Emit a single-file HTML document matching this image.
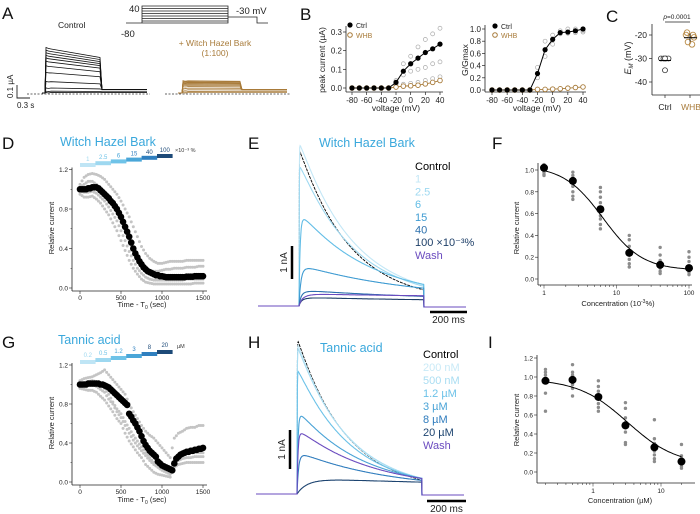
<!DOCTYPE html>
<html><head><meta charset="utf-8">
<style>
html,body{margin:0;padding:0;background:#fff;}
svg{display:block;font-family:"Liberation Sans",Arial,sans-serif;}
</style></head>
<body>
<svg id="fig" width="700" height="514" viewBox="0 0 700 514" xmlns="http://www.w3.org/2000/svg">
<g font-size="17" fill="#111">
<text x="2" y="19">A</text>
<text x="300" y="20">B</text>
<text x="606" y="22">C</text>
<text x="2" y="149">D</text>
<text x="248" y="149">E</text>
<text x="492" y="149">F</text>
<text x="2" y="348">G</text>
<text x="248" y="348">H</text>
<text x="488" y="348">I</text>
</g>
<text x="58" y="28" font-size="8.5" fill="#222">Control</text>
<g stroke="#222" stroke-width="0.8" fill="none">
<path d="M126,23 H142 V6 H228 V23 H142" />
<path d="M142,8.5H228M142,11H228M142,13.5H228M142,16H228M142,18.5H228M142,21H228"/>
<path d="M228,17 H257 V23 H268"/>
</g>
<text x="129" y="12" font-size="9.5" fill="#222">40</text>
<text x="121" y="37" font-size="9.5" fill="#222">-80</text>
<text x="236" y="14" font-size="9.5" fill="#222">-30 mV</text>
<text x="215" y="46" font-size="8.5" fill="#a87b3a" text-anchor="middle">+ Witch Hazel Bark</text>
<text x="215" y="56" font-size="8.5" fill="#a87b3a" text-anchor="middle">(1:100)</text>
<path d="M17,85 V98 H30" stroke="#222" stroke-width="0.9" fill="none"/>
<text x="0" y="0" font-size="8" fill="#222" transform="translate(13,98) rotate(-90)">0.1 µA</text>
<text x="17" y="108" font-size="8" fill="#222">0.3 s</text>
<line x1="27" y1="94" x2="150" y2="94" stroke="#333" stroke-width="0.7" stroke-dasharray="2,1.5"/>
<line x1="165" y1="94" x2="290" y2="94" stroke="#333" stroke-width="0.7" stroke-dasharray="2,1.5"/>
<g id="tracesA"></g>

<g font-size="8" fill="#222">
<text transform="translate(325,60) rotate(-90)" text-anchor="middle" font-size="8.5">peak current (µA)</text>
<text x="396" y="111" text-anchor="middle" font-size="8.5">voltage (mV)</text>
</g>
<g id="b1"></g>
<text transform="translate(468,60) rotate(-90)" text-anchor="middle" font-size="8.5" fill="#222">G/Gmax</text>
<text x="537" y="111" text-anchor="middle" font-size="8.5" fill="#222">voltage (mV)</text>
<g id="b2"></g>
<text transform="translate(631,58) rotate(-90)" text-anchor="middle" font-size="9" fill="#222"><tspan font-style="italic">E</tspan><tspan font-size="6" dy="2" font-style="italic">M</tspan><tspan dy="-2"> (mV)</tspan></text>
<text x="677" y="19" font-size="6.5" text-anchor="middle" fill="#222"><tspan font-style="italic">p</tspan>=0.0001</text>
<line x1="665" y1="22" x2="690" y2="22" stroke="#222" stroke-width="0.7"/>
<text x="665" y="110" font-size="8.5" text-anchor="middle" fill="#222">Ctrl</text>
<text x="691" y="110" font-size="8.5" text-anchor="middle" fill="#a87b3a">WHB</text>
<g id="c"></g>

<text x="60" y="146" font-size="12.5" fill="#3aa8dc">Witch Hazel Bark</text>
<text x="175" y="152" font-size="5.5" fill="#333">×10⁻³ %</text>
<text transform="translate(54,228) rotate(-90)" text-anchor="middle" font-size="7.5" fill="#222">Relative current</text>
<text x="142" y="307" text-anchor="middle" font-size="7.5" fill="#222">Time - T<tspan font-size="5" dy="2">0</tspan><tspan dy="-2"> (sec)</tspan></text>
<g id="d"></g>

<text x="319" y="147" font-size="12.5" fill="#3aa8dc">Witch Hazel Bark</text>
<g id="e"></g>
<text transform="translate(519,228) rotate(-90)" text-anchor="middle" font-size="7.5" fill="#222">Relative current</text>
<text x="618" y="306" text-anchor="middle" font-size="7.5" fill="#222">Concentration (10<tspan font-size="5" dy="-3">-3</tspan><tspan dy="3">%)</tspan></text>
<g id="f"></g>

<text x="58" y="344" font-size="12.5" fill="#3aa8dc">Tannic acid</text>
<text x="177" y="348" font-size="5.5" fill="#333">µM</text>
<text transform="translate(54,423) rotate(-90)" text-anchor="middle" font-size="7.5" fill="#222">Relative current</text>
<text x="142" y="502" text-anchor="middle" font-size="7.5" fill="#222">Time - T<tspan font-size="5" dy="2">0</tspan><tspan dy="-2"> (sec)</tspan></text>
<g id="g"></g>
<text x="320" y="352" font-size="12.5" fill="#3aa8dc">Tannic acid</text>
<g id="h"></g>
<text transform="translate(519,420) rotate(-90)" text-anchor="middle" font-size="7.5" fill="#222">Relative current</text>
<text x="620" y="503" text-anchor="middle" font-size="7.5" fill="#222">Concentration (µM)</text>
<g id="i"></g>
</svg>
<script>
const aCtrlPeaks = [0.35,0.33,0.31,0.29,0.27,0.245,0.21,0.16,0.09,0.04,0.015,0.005];
const aWhbPeaks = [0.095,0.09,0.085,0.08,0.075,0.068,0.06,0.05,0.038,0.025,0.012,0.004];
const bVolt = [-80,-70,-60,-50,-40,-30,-20,-10,0,10,20,30,40];
const b1Ctrl = [0,0,0,0,0,0,0.03,0.09,0.13,0.16,0.19,0.21,0.235];
const b1Whb = [0,0,0,0,0,0,0.005,0.01,0.012,0.015,0.022,0.03,0.04];
const b1CellA = [0,0,0,0,0,0,0.04,0.13,0.17,0.22,0.26,0.29,0.32];
const b1CellB = [0,0,0,0,0,0,0.02,0.07,0.09,0.1,0.11,0.13,0.14];
const b1WhbCell = [0,0,0,0,0,0,0.01,0.02,0.025,0.03,0.04,0.05,0.06];
const b1Ticks = [0,0.1,0.2,0.3];
const bXTicks = [-80,-60,-40,-20,0,20,40];
const b2Ctrl = [0,0,0,0,0,0,0.27,0.66,0.83,0.94,0.95,0.97,1.0];
const b2Whb = [0,0,0,0,0,0,0.01,0.01,0.015,0.02,0.03,0.04,0.05];
const b2CellA = [0,0,0,0,0,0,0.37,0.8,0.9,0.97,1.0,1.0,0.97];
const b2CellB = [0,0,0,0,0,0,0.2,0.55,0.75,0.92,0.93,0.94,0.95];
const b2Ticks = [0,0.2,0.4,0.6,0.8,1.0];
const cCtrl = [-30,-30,-30,-30,-30,-35];
const cWhb = [-19,-20,-20,-21,-23,-24];
const cTicks = [-20,-30,-40];
const dMean = [1.00,1.00,1.00,1.00,1.01,1.01,1.02,1.02,1.02,1.01,0.99,0.97,0.95,0.93,0.91,0.88,0.86,0.83,0.80,0.76,0.72,0.67,0.62,0.57,0.52,0.46,0.40,0.35,0.31,0.27,0.24,0.21,0.19,0.17,0.16,0.15,0.14,0.13,0.13,0.12,0.12,0.115,0.11,0.11,0.11,0.11,0.11,0.11,0.11,0.11,0.11,0.11,0.115,0.115,0.115,0.115,0.12,0.12,0.12,0.12,0.12];
const dCellUpper = [1.05,1.12,1.15,1.16,1.15,1.13,1.10,1.05,1.0,0.95,0.88,0.80,0.72,0.62,0.52,0.42,0.35,0.30,0.27,0.25,0.25,0.26,0.27,0.27,0.27,0.27,0.28,0.28,0.28,0.28,0.28];
const dCellLower = [0.95,0.92,0.92,0.93,0.90,0.86,0.80,0.74,0.66,0.58,0.48,0.38,0.28,0.20,0.14,0.09,0.06,0.05,0.04,0.04,0.04,0.04,0.04,0.04,0.04,0.04,0.04,0.04,0.05,0.05,0.05];
const dCellMid1 = [1.02,1.05,1.08,1.08,1.05,1.0,0.96,0.9,0.84,0.77,0.68,0.58,0.48,0.38,0.30,0.24,0.20,0.18,0.17,0.17,0.18,0.19,0.19,0.2,0.2,0.2,0.21,0.21,0.21,0.22,0.22];
const dCellMid2 = [0.98,0.97,0.97,0.98,0.96,0.92,0.88,0.82,0.75,0.68,0.58,0.48,0.37,0.28,0.2,0.15,0.11,0.09,0.08,0.08,0.08,0.08,0.08,0.08,0.08,0.08,0.09,0.09,0.09,0.09,0.09];
const dConcLabels = ["1","2.5","6","15","40","100"];
const timeTicks = [0,500,1000,1500];
const relTicksD = [0.0,0.4,0.8,1.2];
const eLabels = ["Control","1","2.5","6","15","40","100 ×10⁻³%","Wash"];
const eAmp = [4.9,5.1,4.4,2.8,1.1,0.35,0.15,0.12];
const eDecay = [270,290,300,380,600,800,1000,1000];
const eRise = [1,1,1,6,10,10,10,10];
const eSteady = [0.1,0.15,0.15,0.2,0.2,0.15,0.12,0.26];
const fConc = [1,2.5,6,15,40,100];
const fMean = [1.02,0.90,0.64,0.24,0.13,0.10];
const fCells = [[1.05,1.03,1.0,0.98,0.96,0.95],[0.98,0.95,0.92,0.88,0.85,0.80,0.76,0.73],[0.84,0.8,0.75,0.7,0.66,0.62,0.58,0.55,0.5,0.46],[0.40,0.36,0.30,0.26,0.22,0.18,0.14,0.11],[0.29,0.22,0.17,0.13,0.1,0.07,0.05],[0.25,0.2,0.16,0.12,0.09,0.06,0.04]];
const fFit = [0.08,1.04,6.5,1.6];
const fYTicks = [0.0,0.2,0.4,0.6,0.8,1.0];
const fXTicks = [1,10,100];
const gMean = [1.00,1.00,1.00,1.00,1.01,1.01,1.01,1.01,1.01,1.01,1.00,1.00,0.99,0.98,0.97,0.95,0.93,0.91,0.89,0.87,0.85,0.83,0.81,0.79,0.70,0.67,0.63,0.60,0.56,0.52,0.47,0.42,0.38,0.35,0.32,0.30,0.28,0.26,0.21,0.19,0.17,0.16,0.15,0.14,0.13,0.12,0.19,0.24,0.26,0.28,0.29,0.30,0.31,0.31,0.32,0.32,0.33,0.33,0.34,0.34,0.35];
const gCellUpper = [1.04,1.06,1.07,1.08,1.10,1.12,1.15,1.10,1.05,1.0,0.95,0.90,0.80,0.72,0.65,0.58,0.52,0.48,0.45,0.40,0.35,0.30,0.25,0.45,0.50,0.52,0.55,0.56,0.56,0.58,0.58];
const gCellLower = [0.96,0.95,0.94,0.94,0.92,0.88,0.84,0.78,0.72,0.65,0.60,0.50,0.42,0.36,0.30,0.25,0.18,0.14,0.10,0.08,0.07,0.06,0.05,0.15,0.18,0.19,0.20,0.20,0.20,0.20,0.20];
const gCellMid1 = [1.0,1.02,1.03,1.04,1.03,1.0,0.96,0.9,0.82,0.75,0.70,0.62,0.55,0.48,0.42,0.36,0.30,0.25,0.20,0.17,0.15,0.12,0.10,0.22,0.26,0.28,0.29,0.30,0.30,0.30,0.30];
const gCellMid2 = [0.98,0.99,1.0,1.0,0.98,0.95,0.92,0.85,0.80,0.72,0.66,0.58,0.50,0.43,0.37,0.32,0.27,0.22,0.18,0.15,0.12,0.10,0.08,0.20,0.22,0.24,0.25,0.25,0.26,0.26,0.26];
const gConcLabels = ["0.2","0.5","1.2","3","8","20"];
const hLabels = ["Control","200 nM","500 nM","1.2 µM","3 µM","8 µM","20 µM","Wash"];
const hAmp = [4.0,3.9,3.8,3.2,2.1,1.0,0.35,1.6];
const hDecay = [250,255,260,270,330,460,2000,380];
const hRise = [1,1,1,1,5,8,60,5];
const hSteady = [0.05,0.06,0.08,0.1,0.1,0.1,0.05,0.1];
const iConc = [0.2,0.5,1.2,3,8,20];
const iMean = [0.96,0.97,0.79,0.49,0.26,0.11];
const iCells = [[1.08,1.05,1.02,0.98,0.94,0.83,0.64],[1.13,1.05,1.02,0.98,0.92,0.88,0.80],[0.96,0.9,0.85,0.78,0.72,0.68,0.64],[0.73,0.67,0.57,0.52,0.47,0.42,0.31,0.29],[0.55,0.35,0.3,0.26,0.22,0.18,0.14,0.11],[0.29,0.17,0.14,0.11,0.08,0.06,0.04]];
const iFit = [0.07,0.98,3.2,1.2];
const iYTicks = [0.0,0.2,0.4,0.6,0.8,1.0,1.2];
const iXTicks = [1,10];

const NS = 'http://www.w3.org/2000/svg';
function mk(parent, tag, attrs, name) {
  const el = document.createElementNS(NS, tag);
  for (const k in attrs) el.setAttribute(k, attrs[k]);
  
  
  parent.appendChild(el);
  return el;
}
function tx(parent, x, y, s, size, name, anchor, fill) {
  const t = mk(parent, 'text', {x: x, y: y, 'font-size': size, 'text-anchor': anchor || 'start', fill: fill || '#222'}, name);
  t.textContent = s;
  return t;
}
function lin(d0, d1, r0, r1) { return v => r0 + (v - d0) * (r1 - r0) / (d1 - d0); }
function logs(d0, d1, r0, r1) { const a = Math.log10(d0), b = Math.log10(d1); return v => r0 + (Math.log10(v) - a) * (r1 - r0) / (b - a); }
function hill(p, c) { return p[0] + (p[1] - p[0]) / (1 + Math.pow(c / p[2], p[3])); }
const G = id => document.getElementById(id);
const ctrlColors = ['#000','#c3e7f6','#9fd9f1','#62bde6','#3e9bd2','#2c70ad','#1e3f68','#6a4bbf'];
const barColors = ['#bfe5f5','#9ed8f0','#6fc3e8','#4aa6d8','#2f7fbf','#1d4a78'];

(function(){
  const g = G('tracesA');
  const sc = 130, base = 93;
  function draw(peaks, x0, x1, x2, xs, color, nm, sag) {
    peaks.forEach((p, i) => {
      const y0 = base - p * sc, y1 = base - p * sc * sag;
      const tail = base - Math.min(p, 0.03) * sc * 0.9;
      const d = `M${xs},${base} H${x0} L${x0+1},${y0} Q${x0+3},${y0+1} ${x0+6},${y0+ (y1-y0)*0.15} L${x1},${y1} L${x1+2},${tail} H${x2}`;
      mk(g, 'path', {d: d, fill: 'none', stroke: color, 'stroke-width': 0.8}, nm + '-trace-' + i);
    });
  }
  draw(aCtrlPeaks, 45, 100, 147, 42, '#111', 'control', 0.78);
  draw(aWhbPeaks, 182, 240, 287, 178, '#a87b3a', 'whb', 0.95);
})();

(function(){
  const g = G('b1');
  const x = lin(-80, 40, 352, 440), y = lin(0, 0.3, 88, 32);
  mk(g, 'line', {x1: 346, y1: 26, x2: 346, y2: 92, stroke: '#222', 'stroke-width': 0.8}, 'b1-y-axis');
  mk(g, 'line', {x1: 346, y1: 92, x2: 443, y2: 92, stroke: '#222', 'stroke-width': 0.8}, 'b1-x-axis');
  b1Ticks.forEach(v => { mk(g, 'line', {x1: 343, y1: y(v), x2: 346, y2: y(v), stroke: '#222', 'stroke-width': 0.7}, 'b1-y-tick'); tx(g, 342, y(v) + 3, v.toFixed(1), 8, 'b1-y-tick-label', 'end'); });
  bXTicks.forEach(v => { mk(g, 'line', {x1: x(v), y1: 92, x2: x(v), y2: 95, stroke: '#222', 'stroke-width': 0.7}, 'b1-x-tick'); tx(g, x(v), 103, String(v), 8, 'b1-x-tick-label', 'middle'); });
  [b1CellA, b1CellB, b1WhbCell].forEach((arr, k) => arr.forEach((v, i) => mk(g, 'circle', {cx: x(bVolt[i]), cy: y(v), r: 2, fill: 'none', stroke: '#aaa', 'stroke-width': 0.7}, 'b1-cell-point')));
  mk(g, 'polyline', {points: bVolt.map((v, i) => x(v) + ',' + y(b1Whb[i])).join(' '), fill: 'none', stroke: '#a87b3a', 'stroke-width': 0.9}, 'b1-whb-line');
  mk(g, 'polyline', {points: bVolt.map((v, i) => x(v) + ',' + y(b1Ctrl[i])).join(' '), fill: 'none', stroke: '#000', 'stroke-width': 1}, 'b1-ctrl-line');
  bVolt.forEach((v, i) => mk(g, 'circle', {cx: x(v), cy: y(b1Whb[i]), r: 2.3, fill: '#fff', stroke: '#a87b3a', 'stroke-width': 0.9}, 'b1-whb-point'));
  bVolt.forEach((v, i) => mk(g, 'circle', {cx: x(v), cy: y(b1Ctrl[i]), r: 2.6, fill: '#000'}, 'b1-ctrl-point'));
  mk(g, 'circle', {cx: 350, cy: 25, r: 2.6, fill: '#000'}, 'b1-legend-ctrl-marker');
  tx(g, 356, 28, 'Ctrl', 7, 'b1-legend-ctrl');
  mk(g, 'circle', {cx: 350, cy: 35, r: 2.3, fill: '#fff', stroke: '#a87b3a'}, 'b1-legend-whb-marker');
  tx(g, 356, 38, 'WHB', 7, 'b1-legend-whb', 'start', '#a87b3a');
})();

(function(){
  const g = G('b2');
  const x = lin(-80, 40, 492, 583), y = lin(0, 1, 90, 29);
  mk(g, 'line', {x1: 485, y1: 25, x2: 485, y2: 92, stroke: '#222', 'stroke-width': 0.8}, 'b2-y-axis');
  mk(g, 'line', {x1: 485, y1: 92, x2: 586, y2: 92, stroke: '#222', 'stroke-width': 0.8}, 'b2-x-axis');
  b2Ticks.forEach(v => { mk(g, 'line', {x1: 482, y1: y(v), x2: 485, y2: y(v), stroke: '#222', 'stroke-width': 0.7}, 'b2-y-tick'); tx(g, 481, y(v) + 3, v.toFixed(1), 8, 'b2-y-tick-label', 'end'); });
  bXTicks.forEach(v => { mk(g, 'line', {x1: x(v), y1: 92, x2: x(v), y2: 95, stroke: '#222', 'stroke-width': 0.7}, 'b2-x-tick'); tx(g, x(v), 103, String(v), 8, 'b2-x-tick-label', 'middle'); });
  [b2CellA, b2CellB].forEach(arr => arr.forEach((v, i) => mk(g, 'circle', {cx: x(bVolt[i]), cy: y(v), r: 2, fill: 'none', stroke: '#aaa', 'stroke-width': 0.7}, 'b2-cell-point')));
  mk(g, 'polyline', {points: bVolt.map((v, i) => x(v) + ',' + y(b2Whb[i])).join(' '), fill: 'none', stroke: '#a87b3a', 'stroke-width': 0.9}, 'b2-whb-line');
  mk(g, 'polyline', {points: bVolt.map((v, i) => x(v) + ',' + y(b2Ctrl[i])).join(' '), fill: 'none', stroke: '#000', 'stroke-width': 1}, 'b2-ctrl-line');
  bVolt.forEach((v, i) => mk(g, 'circle', {cx: x(v), cy: y(b2Whb[i]), r: 2.3, fill: '#fff', stroke: '#a87b3a', 'stroke-width': 0.9}, 'b2-whb-point'));
  bVolt.forEach((v, i) => mk(g, 'circle', {cx: x(v), cy: y(b2Ctrl[i]), r: 2.6, fill: '#000'}, 'b2-ctrl-point'));
  mk(g, 'circle', {cx: 495, cy: 26, r: 2.6, fill: '#000'}, 'b2-legend-ctrl-marker');
  tx(g, 501, 29, 'Ctrl', 7, 'b2-legend-ctrl');
  mk(g, 'circle', {cx: 495, cy: 35, r: 2.3, fill: '#fff', stroke: '#a87b3a'}, 'b2-legend-whb-marker');
  tx(g, 501, 38, 'WHB', 7, 'b2-legend-whb', 'start', '#a87b3a');
})();

(function(){
  const g = G('c');
  const y = lin(-20, -40, 35, 82);
  mk(g, 'line', {x1: 652, y1: 24, x2: 652, y2: 95, stroke: '#222', 'stroke-width': 0.8}, 'c-y-axis');
  mk(g, 'line', {x1: 652, y1: 95, x2: 700, y2: 95, stroke: '#222', 'stroke-width': 0.8}, 'c-x-axis');
  cTicks.forEach(v => { mk(g, 'line', {x1: 649, y1: y(v), x2: 652, y2: y(v), stroke: '#222', 'stroke-width': 0.7}, 'c-y-tick'); tx(g, 647, y(v) + 3, String(v), 8.5, 'c-y-tick-label', 'end'); });
  [665, 690].forEach(xx => mk(g, 'line', {x1: xx, y1: 95, x2: xx, y2: 98, stroke: '#222', 'stroke-width': 0.7}, 'c-x-tick'));
  const offs = [-4,-1.5,1,3.5,0,0];
  cCtrl.forEach((v, i) => mk(g, 'circle', {cx: 665 + offs[i], cy: y(v), r: 2.5, fill: '#fff', stroke: '#333', 'stroke-width': 0.8}, 'c-ctrl-point'));
  const offw = [-3,3,-4,4,-2,2];
  cWhb.forEach((v, i) => mk(g, 'circle', {cx: 690 + offw[i], cy: y(v), r: 2.8, fill: 'none', stroke: '#b88a45', 'stroke-width': 0.9}, 'c-whb-point'));
  const mc = cCtrl.reduce((a, b) => a + b, 0) / cCtrl.length, mw = cWhb.reduce((a, b) => a + b, 0) / cWhb.length;
  mk(g, 'line', {x1: 659, y1: y(mc), x2: 671, y2: y(mc), stroke: '#000', 'stroke-width': 1}, 'c-ctrl-mean');
  mk(g, 'line', {x1: 684, y1: y(mw), x2: 697, y2: y(mw), stroke: '#000', 'stroke-width': 1}, 'c-whb-mean');
  mk(g, 'line', {x1: 690, y1: y(mw) - 4, x2: 690, y2: y(mw) + 4, stroke: '#000', 'stroke-width': 0.8}, 'c-whb-sem');
})();

function timeCourse(g, pre, yTop, yZero, barY0, barY1, labelY0, labelY1, mean, cells, labels) {
  const x = lin(0, 1500, 80, 203), y = lin(0, 1.2, yZero, yTop);
  const ax = 72;
  mk(g, 'line', {x1: ax, y1: yTop - 2, x2: ax, y2: yZero + 3, stroke: '#222', 'stroke-width': 0.8}, pre + '-y-axis');
  mk(g, 'line', {x1: ax, y1: yZero + 3, x2: 207, y2: yZero + 3, stroke: '#222', 'stroke-width': 0.8}, pre + '-x-axis');
  relTicksD.forEach(v => { mk(g, 'line', {x1: ax - 3, y1: y(v), x2: ax, y2: y(v), stroke: '#222', 'stroke-width': 0.6}, pre + '-y-tick'); tx(g, ax - 4, y(v) + 2.5, v.toFixed(1), 6.5, pre + '-y-tick-label', 'end'); });
  [0.2,0.6,1.0].forEach(v => mk(g, 'line', {x1: ax - 1.5, y1: y(v), x2: ax, y2: y(v), stroke: '#222', 'stroke-width': 0.5}, pre + '-y-minor-tick'));
  timeTicks.forEach(v => { mk(g, 'line', {x1: x(v), y1: yZero + 3, x2: x(v), y2: yZero + 6, stroke: '#222', 'stroke-width': 0.6}, pre + '-x-tick'); tx(g, x(v), yZero + 12, String(v), 6.5, pre + '-x-tick-label', 'middle'); });
  cells.forEach(arr => arr.forEach((v, i) => { mk(g, 'circle', {cx: x(i * 50), cy: y(v), r: 1.5, fill: '#c4c4c4'}, pre + '-cell-point'); }));
  cells.forEach(arr => arr.forEach((v, i) => { if (i < arr.length - 1) mk(g, 'circle', {cx: x(i * 50 + 25), cy: y((v + arr[i + 1]) / 2), r: 1.5, fill: '#c4c4c4'}, pre + '-cell-point'); }));
  mean.forEach((v, i) => mk(g, 'circle', {cx: x(i * 25), cy: y(v), r: 3.3, fill: '#000'}, pre + '-mean-point'));
  labels.forEach((s, i) => {
    const bx = 80 + i * 15.4, by = barY0 + (barY1 - barY0) * i / 5;
    mk(g, 'rect', {x: bx, y: by, width: 15.6, height: 4, fill: barColors[i]}, pre + '-conc-bar-' + i);
    tx(g, bx + 7.8, labelY0 + (labelY1 - labelY0) * i / 5, s, 6, pre + '-conc-label-' + i, 'middle', barColors[Math.min(i + 1, 5)]);
  });
}
timeCourse(G('d'), 'd', 169.5, 288, 163, 154, 161, 152, dMean, [dCellUpper, dCellLower, dCellMid1, dCellMid2], dConcLabels);
timeCourse(G('g'), 'g', 365, 482, 360, 350, 357, 347, gMean, [gCellUpper, gCellLower, gCellMid1, gCellMid2], gConcLabels);

function traces(g, pre, base, x0, xEnd, pxPerMs, pxPerNa, amp, dec, rise, ss, labels, colors, legX, legY, legDy, barX, barY0, barY1, tbarX0, tbarX1, tbarY) {
  const T = (xEnd - x0) / pxPerMs;
  [0,1,2,3,4,5,6,7].forEach(k => {
    let d = `M${x0 - 41},${base} H${x0}`;
    for (let t = 0; t <= T; t += 2) {
      const I = amp[k] * Math.exp(-t / dec[k]) * (1 - Math.exp(-t / rise[k])) + ss[k] * (1 - Math.exp(-t / 30));
      d += ` L${(x0 + t * pxPerMs).toFixed(1)},${(base - I * pxPerNa).toFixed(1)}`;
    }
    d += ` L${xEnd},${base + 1} H${xEnd + 42}`;
    mk(g, 'path', {d: d, fill: 'none', stroke: colors[k], 'stroke-width': k === 0 ? 0.9 : 1.1, 'stroke-dasharray': k === 0 ? '3,1' : 'none'}, pre + '-trace-' + k);
  });
  labels.forEach((s, k) => tx(g, legX, legY + k * legDy, s, 11, pre + '-legend-' + k, 'start', colors[k]));
  mk(g, 'line', {x1: barX, y1: barY0, x2: barX, y2: barY1, stroke: '#000', 'stroke-width': 2.5}, pre + '-scale-current');
  tx(g, 0, 0, '1 nA', 10, pre + '-scale-current-label', 'middle').setAttribute('transform', `translate(${barX - 5},${(barY0 + barY1) / 2}) rotate(-90)`);
  mk(g, 'line', {x1: tbarX0, y1: tbarY, x2: tbarX1, y2: tbarY, stroke: '#000', 'stroke-width': 2.5}, pre + '-scale-time');
  tx(g, (tbarX0 + tbarX1) / 2, tbarY + 11, '200 ms', 10, pre + '-scale-time-label', 'middle');
}
const hColors = ['#000','#c9eaf7','#a9ddf2','#6cc2e8','#4aa3d6','#2f7cbd','#1d4470','#6a4bbf'];
traces(G('e'), 'e', 306, 299, 424, 0.185, 32, eAmp, eDecay, eRise, eSteady, eLabels, ctrlColors, 415, 170, 12.7, 292, 246, 279, 430, 467, 312);
traces(G('h'), 'h', 494, 297, 422, 0.195, 39, hAmp, hDecay, hRise, hSteady, hLabels, hColors, 423, 358, 13, 290, 430, 469, 427, 466, 501);

function dose(g, pre, xs, y, ax, yTopAx, yBotAx, xEndAx, cMin, cMax, conc, mean, cells, fit, yTicks, xTicks) {
  mk(g, 'line', {x1: ax, y1: yTopAx, x2: ax, y2: yBotAx, stroke: '#222', 'stroke-width': 0.8}, pre + '-y-axis');
  mk(g, 'line', {x1: ax, y1: yBotAx, x2: xEndAx, y2: yBotAx, stroke: '#222', 'stroke-width': 0.8}, pre + '-x-axis');
  yTicks.forEach(v => { mk(g, 'line', {x1: ax - 3, y1: y(v), x2: ax, y2: y(v), stroke: '#222', 'stroke-width': 0.6}, pre + '-y-tick'); tx(g, ax - 4, y(v) + 2.5, v.toFixed(1), 6.5, pre + '-y-tick-label', 'end'); });
  for (let dec = 0.1; dec < 1000; dec *= 10) for (let m = 1; m < 10; m++) {
    const c = dec * m; if (c < cMin || c > cMax) continue;
    mk(g, 'line', {x1: xs(c), y1: yBotAx, x2: xs(c), y2: yBotAx + (m === 1 ? 3.5 : 2), stroke: '#222', 'stroke-width': 0.5}, pre + '-x-tick');
  }
  xTicks.forEach(v => tx(g, xs(v), yBotAx + 10, String(v), 6.5, pre + '-x-tick-label', 'middle'));
  cells.forEach((arr, i) => arr.forEach(v => mk(g, 'circle', {cx: xs(conc[i]), cy: y(v), r: 1.7, fill: '#8c8c8c'}, pre + '-cell-point')));
  let d = '';
  for (let lc = Math.log10(conc[0]); lc <= Math.log10(conc[conc.length - 1]) + 1e-9; lc += 0.02) {
    const c = Math.pow(10, lc);
    d += (d ? ' L' : 'M') + xs(c).toFixed(1) + ',' + y(hill(fit, c)).toFixed(1);
  }
  mk(g, 'path', {d: d, fill: 'none', stroke: '#000', 'stroke-width': 1}, pre + '-fit-curve');
  mean.forEach((v, i) => mk(g, 'circle', {cx: xs(conc[i]), cy: y(v), r: 4, fill: '#000'}, pre + '-mean-point'));
}
dose(G('f'), 'f', logs(1, 100, 544, 689), lin(0, 1, 279, 170), 538, 163, 285, 692, 0.9, 110, fConc, fMean, fCells, fFit, fYTicks, fXTicks);
dose(G('i'), 'i', logs(1, 10, 593, 661), lin(0, 1, 472, 377), 537, 355, 483, 695, 0.15, 28, iConc, iMean, iCells, iFit, iYTicks, iXTicks);
</script>
</body></html>
